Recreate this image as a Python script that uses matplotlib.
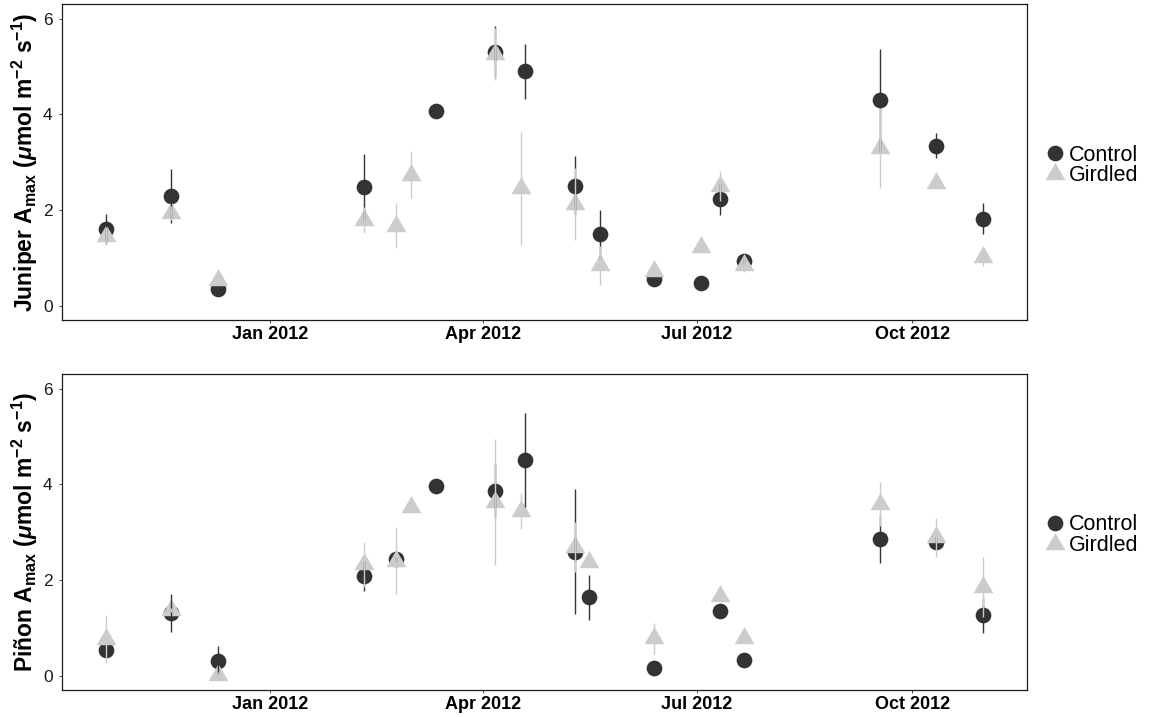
import datetime as dt
import matplotlib
matplotlib.use("Agg")
import matplotlib.pyplot as plt
import matplotlib.dates as mdates
from matplotlib.lines import Line2D

plt.rcParams["font.family"] = ["Liberation Sans", "DejaVu Sans"]
plt.rcParams["mathtext.fontset"] = "custom"
plt.rcParams["mathtext.rm"] = "Liberation Sans:bold"
plt.rcParams["mathtext.bf"] = "Liberation Sans:bold"
plt.rcParams["mathtext.it"] = "Liberation Sans:bold:italic"


def d(s):
    return dt.datetime.strptime(s, "%Y-%m-%d")


# ---- Juniper: light-saturated photosynthesis (mean, SE) ----
jun_ctrl_dates = ["2011-10-23", "2011-11-20", "2011-12-10", "2012-02-10", "2012-03-12",
                  "2012-04-06", "2012-04-19", "2012-05-10", "2012-05-21", "2012-06-13",
                  "2012-07-03", "2012-07-11", "2012-07-21", "2012-09-17", "2012-10-11",
                  "2012-10-31"]
jun_ctrl_mean = [1.60, 2.29, 0.34, 2.48, 4.06, 5.30, 4.90, 2.51, 1.49, 0.55,
                 0.47, 2.23, 0.93, 4.29, 3.34, 1.82]
jun_ctrl_se = [0.31, 0.56, 0.05, 0.68, 0.05, 0.55, 0.58, 0.62, 0.51, 0.05,
               0.03, 0.34, 0.06, 1.08, 0.26, 0.32]

jun_gird_dates = ["2011-10-23", "2011-11-20", "2011-12-10", "2012-02-10", "2012-02-24",
                  "2012-03-01", "2012-04-06", "2012-04-17", "2012-05-10", "2012-05-21",
                  "2012-06-13", "2012-07-03", "2012-07-11", "2012-07-21", "2012-09-17",
                  "2012-10-11", "2012-10-31"]
jun_gird_mean = [1.46, 1.94, 0.54, 1.79, 1.67, 2.74, 5.26, 2.45, 2.12, 0.84,
                 0.72, 1.23, 2.50, 0.86, 3.30, 2.57, 1.02]
jun_gird_se = [0.18, 0.15, 0.05, 0.28, 0.47, 0.49, 0.55, 1.19, 0.75, 0.41,
               0.08, 0.05, 0.31, 0.15, 0.83, 0.10, 0.20]

# ---- Piñon ----
pin_ctrl_dates = ["2011-10-23", "2011-11-20", "2011-12-10", "2012-02-10", "2012-02-24",
                  "2012-03-12", "2012-04-06", "2012-04-19", "2012-05-10", "2012-05-16",
                  "2012-06-13", "2012-07-11", "2012-07-21", "2012-09-17", "2012-10-11",
                  "2012-10-31"]
pin_ctrl_mean = [0.53, 1.31, 0.31, 2.08, 2.43, 3.96, 3.86, 4.50, 2.59, 1.64,
                 0.16, 1.36, 0.32, 2.85, 2.80, 1.26]
pin_ctrl_se = [0.05, 0.39, 0.30, 0.31, 0.05, 0.10, 0.57, 0.98, 1.31, 0.47,
               0.03, 0.05, 0.03, 0.50, 0.10, 0.36]

pin_gird_dates = ["2011-10-23", "2011-11-20", "2011-12-10", "2012-02-10", "2012-02-24",
                  "2012-03-01", "2012-04-06", "2012-04-17", "2012-05-10", "2012-05-16",
                  "2012-06-13", "2012-07-11", "2012-07-21", "2012-09-17", "2012-10-11",
                  "2012-10-31"]
pin_gird_mean = [0.76, 1.37, 0.02, 2.33, 2.40, 3.53, 3.63, 3.44, 2.69, 2.38,
                 0.78, 1.67, 0.78, 3.59, 2.89, 1.85]
pin_gird_se = [0.50, 0.05, 0.05, 0.47, 0.70, 0.05, 1.32, 0.38, 0.52, 0.05,
               0.32, 0.05, 0.05, 0.46, 0.40, 0.62]

treatments = ["Control", "Girdled"]
tick_dates = ["2012-01-01", "2012-04-01", "2012-07-01", "2012-10-01"]
y_ticks = [0, 2, 4, 6]

CTRL_COL = "#333333"
GIRD_COL = "#CCCCCC"
TRI = [(0, 1), (-0.866, -0.5), (0.866, -0.5), (0, 1)]

panels = [
    ("Juniper", [jun_ctrl_dates, jun_ctrl_mean, jun_ctrl_se],
     [jun_gird_dates, jun_gird_mean, jun_gird_se]),
    ("Piñon", [pin_ctrl_dates, pin_ctrl_mean, pin_ctrl_se],
     [pin_gird_dates, pin_gird_mean, pin_gird_se]),
]

all_dates = [d(s) for s in jun_ctrl_dates + jun_gird_dates + pin_ctrl_dates + pin_gird_dates]
x0 = mdates.date2num(min(all_dates))
x1 = mdates.date2num(max(all_dates))
xpad = 0.05 * (x1 - x0)

fig = plt.figure(figsize=(11.52, 7.17), dpi=100)
boxes = [[0.0536, 0.5537, 0.8376, 0.4403], [0.0536, 0.0377, 0.8376, 0.4403]]

for box, (name, ctrl, gird) in zip(boxes, panels):
    ax = fig.add_axes(box)
    cx = [d(s) for s in ctrl[0]]
    gx = [d(s) for s in gird[0]]
    ax.plot(cx, ctrl[1], linestyle="none", marker="o", ms=11.3, mew=0,
            color=CTRL_COL, zorder=2)
    ax.plot(gx, gird[1], linestyle="none", marker=TRI, ms=16.5, mew=0,
            color=GIRD_COL, zorder=3)
    ax.vlines(cx, [m - s for m, s in zip(ctrl[1], ctrl[2])],
              [m + s for m, s in zip(ctrl[1], ctrl[2])],
              color=CTRL_COL, lw=1.0, zorder=4)
    ax.vlines(gx, [m - s for m, s in zip(gird[1], gird[2])],
              [m + s for m, s in zip(gird[1], gird[2])],
              color=GIRD_COL, lw=1.0, zorder=5)

    ax.set_xlim(x0 - xpad, x1 + xpad)
    ax.set_ylim(-0.3, 6.3)
    ax.set_yticks(y_ticks)
    ax.set_xticks([d(s) for s in tick_dates])
    ax.xaxis.set_major_formatter(mdates.DateFormatter("%b %Y"))
    ax.tick_params(axis="x", length=2.5, width=0.6, pad=1.5, labelsize=13,
                   colors="#222222", labelcolor="black")
    for lab in ax.get_xticklabels():
        lab.set_fontweight("bold")
    ax.tick_params(axis="y", length=2.5, width=0.6, pad=4, labelsize=12.5,
                   colors="#222222", labelcolor="#1a1a1a")
    for sp in ax.spines.values():
        sp.set_color("#1a1a1a")
        sp.set_linewidth(0.9)

    ax.set_ylabel(name + r" A$_{\mathrm{max}}$ ($\mu$mol m$^{-2}$ s$^{-1}$)",
                  fontsize=16.5, fontweight="bold", labelpad=2)

    handles = [
        Line2D([], [], linestyle="none", marker="o", ms=11.3, mew=0, color=CTRL_COL),
        Line2D([], [], linestyle="none", marker=TRI, ms=16.5, mew=0, color=GIRD_COL),
    ]
    ax.legend(handles, treatments, loc="center left", bbox_to_anchor=(1.0186, 0.49),
              frameon=False, fontsize=15.5, handlelength=1.0, handletextpad=0.15,
              labelspacing=-0.02, borderpad=0, borderaxespad=0)

fig.savefig("out.png", dpi=100)
